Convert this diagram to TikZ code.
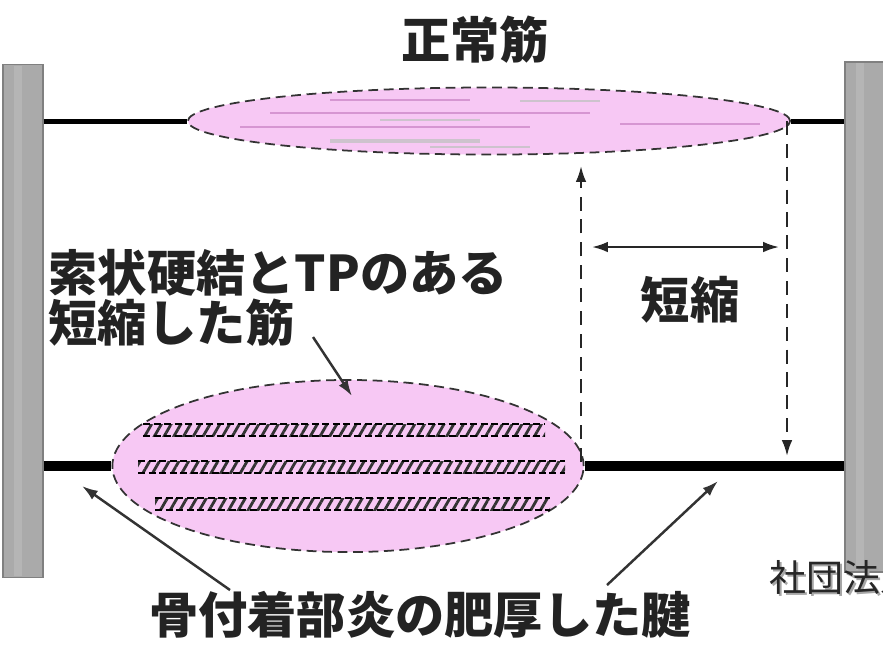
\documentclass[tikz,border=0pt]{standalone}
\usepackage{fontspec}
\setmainfont{Noto Sans CJK JP}
\usetikzlibrary{shapes.geometric,arrows.meta,patterns.meta}

\definecolor{musclepink}{RGB}{247,200,244}
\definecolor{streakpink}{RGB}{214,150,210}
\definecolor{streakgray}{RGB}{205,195,205}
\definecolor{bonegray}{RGB}{170,170,170}
\definecolor{inkgray}{RGB}{35,35,35}

\begin{document}
\begin{tikzpicture}[x=0.01cm,y=-0.01cm,
    bone/.style={draw=black!50,fill=bonegray,line width=0.4pt,minimum width=0.4cm,inner sep=0pt},
    muscle/.style={ellipse,draw=black!80,fill=musclepink,line width=0.5pt,
        dash pattern=on 2.8pt off 1.6pt,inner sep=0pt},
    tendon/.style={line width=0.05cm,black},
    thicktendon/.style={line width=0.1cm,black},
    txt/.style={text=inkgray,font=\fontsize{14}{14.2}\selectfont\bfseries,inner sep=0pt},
    dimline/.style={line width=0.6pt,black!85,dash pattern=on 4pt off 2.5pt,
        -{Latex[length=4.5pt,width=3pt]}},
    pointer/.style={line width=0.7pt,black!80,-{Latex[length=4.5pt,width=3pt]}},
    streak/.style={line width=0.3pt,streakpink},
    rope/.style={pattern={Lines[angle=60,distance=2.4pt,line width=0.8pt]},pattern color=black!80}
]
\useasboundingbox (0,0) rectangle (883,653);

% bones at both ends
\node[bone,minimum height=5.13cm] (lbar) at (23,321) {};
\node[bone,minimum height=5.1cm] (rbar) at (865,317) {};
\fill[black!29] (14,66) rectangle (22,576);
\fill[black!29] (856,63) rectangle (864,570);

% normal muscle
\node[muscle,minimum width=6.02cm,minimum height=0.67cm] (normal) at (489,121) {};
\draw[tendon] (lbar.east |- normal.west) -- (normal.west);
\draw[tendon] (normal.east) -- (rbar.west |- normal.east);
\draw[streak] (330,100) -- (470,100);
\draw[streak,streakgray] (520,101) -- (600,101);
\draw[streak] (270,113) -- (590,113);
\draw[streak,streakgray] (380,120) -- (480,120);
\draw[streak] (240,127) -- (530,127);
\draw[streak] (620,124) -- (760,124);
\draw[streak,streakgray,line width=1.2pt] (330,141) -- (480,141);
\draw[streak,streakgray,line width=0.8pt] (430,147) -- (530,147);

% shortened muscle with the taut bands
\node[muscle,minimum width=4.71cm,minimum height=1.72cm] (short) at (348,466) {};
\draw[thicktendon] (lbar.east |- short.west) -- (short.west);
\draw[thicktendon] (short.east) -- (rbar.west |- short.east);
\foreach \ry/\xa/\xb in {430/143/545,467/138/565,504/155/550}{
    \fill[rope] (\xa,\ry-6) rectangle (\xb,\ry+6);
    \draw[line width=0.4pt,dash pattern=on 2pt off 1pt] (\xa,\ry-6) -- (\xb,\ry-6) (\xa,\ry+6) -- (\xb,\ry+6);
}

% labels
\node[txt] (normtxt) at (475,40) {正常筋};
\node[txt] (shorttxt) at (690,300) {短縮};
\node[txt,align=left,anchor=west] (band) at (48,298) {索状硬結とTPのある\\短縮した筋};
\node[txt] (enthes) at (420,615) {骨付着部炎の肥厚した腱};
\node[anchor=west,text=black!35,font=\fontsize{10.5}{10.5}\selectfont] at (759,579) {社団法人};
\node[anchor=west,text=black!85,font=\fontsize{10.5}{10.5}\selectfont] (assoc) at (757,577) {社団法人};

% shortening
\coordinate (upfoot) at (581,462);
\coordinate (uphead) at (581,166);
\coordinate (downfoot) at (787,121);
\coordinate (downhead) at (787,456);
\coordinate (spanl) at (592,247);
\coordinate (spanr) at (779,247);
\draw[dimline] (upfoot) -- (uphead);
\draw[dimline] (downfoot) -- (downhead);
\draw[line width=0.6pt,black!85,{Latex[length=4.5pt,width=3pt]}-{Latex[length=4.5pt,width=3pt]}] (spanl) -- (spanr);

% pointers
\coordinate (bandtail) at (313,337);
\coordinate (bandhead) at (352,396);
\coordinate (ltail) at (230,590);
\coordinate (lhead) at (82,486);
\coordinate (rtail) at (607,585);
\coordinate (rhead) at (718,481);
\draw[pointer] (bandtail) -- (bandhead);
\draw[pointer] (ltail) -- (lhead);
\draw[pointer] (rtail) -- (rhead);

\end{tikzpicture}
\end{document}
